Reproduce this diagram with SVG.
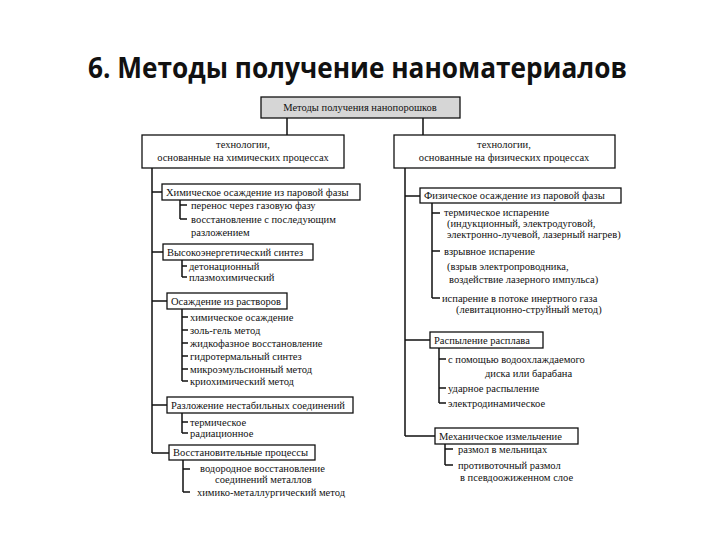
<svg xmlns="http://www.w3.org/2000/svg" width="720" height="540" viewBox="0 0 720 540">
<style>
.t{font-family:'Liberation Serif','DejaVu Serif','Times New Roman',serif;font-size:10.5px;fill:#111}
.c{text-anchor:middle}
.b{fill:#fff;stroke:#111;stroke-width:1.3}
.l{stroke:#111;stroke-width:1.5;fill:none}
.h{font-family:'Open Sans','Liberation Sans',sans-serif;font-weight:bold;font-size:29px;fill:#111}
</style>
<rect width="720" height="540" fill="#fff"/>
<text class="h" x="88" y="78" textLength="539" lengthAdjust="spacingAndGlyphs">6. Методы получение наноматериалов</text>
<g id="connectors">
<path class="l" d="M287,118V135M423,118V135"/>
<path class="l" d="M152,168V453M152,192H162M152,252H163M152,301H167M152,405H167M152,453H169"/>
<path class="l" d="M180,200V219M180,205H187M180,219H187"/>
<path class="l" d="M182,260V277M182,266H187M182,277H187"/>
<path class="l" d="M182,309V381M182,317H188M182,330H188M182,343H188M182,356H188M182,369H188M182,381H188"/>
<path class="l" d="M182,413V433M182,422H188M182,433H188"/>
<path class="l" d="M183,460V492M183,469H190M183,492H190"/>
<path class="l" d="M405,168V436M405,196H420M405,340H430M405,436H435"/>
<path class="l" d="M432,203V298M432,213H440M432,251H440M432,298H440"/>
<path class="l" d="M439,348V403M439,359H446M439,388H446M439,403H446"/>
<path class="l" d="M445,444V465M445,449H453M445,465H453"/>
</g>
<g font-family="'Liberation Serif', serif">
<g id="root"><rect x="261" y="97" width="199" height="21" fill="#d6d6d6" stroke="#111" stroke-width="1.3"/><text class="t c" x="360" y="111">Методы получения нанопорошков</text></g>
<g id="chem"><rect class="b" x="142" y="135" width="202" height="33"/><text class="t c" x="243" y="148">технологии,</text><text class="t c" x="243" y="161">основанные на химических процессах</text></g>
<g id="phys"><rect class="b" x="394" y="135" width="221" height="33"/><text class="t c" x="504" y="148">технологии,</text><text class="t c" x="504" y="161">основанные на физических процессах</text></g>
<g id="c1"><rect class="b" x="162" y="184" width="198" height="16"/><text class="t" x="166" y="196">Химическое осаждение из паровой фазы</text>
<text class="t" x="191" y="209">перенос через газовую фазу</text><text class="t" x="191" y="223">восстановление с последующим</text><text class="t" x="191" y="236">разложением</text></g>
<g id="c2"><rect class="b" x="163" y="244" width="150" height="16"/><text class="t" x="167" y="256">Высокоэнергетический синтез</text>
<text class="t" x="189" y="270">детонационный</text><text class="t" x="189" y="281">плазмохимический</text></g>
<g id="c3"><rect class="b" x="167" y="293" width="120" height="16"/><text class="t" x="171" y="305">Осаждение из растворов</text>
<text class="t" x="190" y="321">химическое осаждение</text><text class="t" x="190" y="334">золь-гель метод</text><text class="t" x="190" y="347">жидкофазное восстановление</text><text class="t" x="190" y="360">гидротермальный синтез</text><text class="t" x="190" y="373">микроэмульсионный метод</text><text class="t" x="190" y="385">криохимический метод</text></g>
<g id="c4"><rect class="b" x="167" y="397" width="186" height="16"/><text class="t" x="171" y="409">Разложение нестабильных соединений</text>
<text class="t" x="190" y="426">термическое</text><text class="t" x="190" y="437">радиационное</text></g>
<g id="c5"><rect class="b" x="169" y="445" width="146" height="15"/><text class="t" x="173" y="456">Восстановительные процессы</text>
<text class="t" x="200" y="472">водородное восстановление</text><text class="t" x="215" y="483">соединений металлов</text><text class="t" x="197" y="496">химико-металлургический метод</text></g>
<g id="p1"><rect class="b" x="420" y="188" width="201" height="15"/><text class="t" x="424" y="199">Физическое осаждение из паровой фазы</text>
<text class="t" x="444" y="216">термическое испарение</text><text class="t" x="447" y="227">(индукционный, электродуговой,</text><text class="t" x="447" y="238">электронно-лучевой, лазерный нагрев)</text>
<text class="t" x="444" y="255">взрывное испарение</text><text class="t" x="447" y="270">(взрыв электропроводника,</text><text class="t" x="449" y="283">воздействие лазерного импульса)</text>
<text class="t" x="442" y="302">испарение в потоке инертного газа</text><text class="t" x="456" y="313">(левитационно-струйный метод)</text></g>
<g id="p2"><rect class="b" x="430" y="332" width="113" height="16"/><text class="t" x="434" y="344">Распыление расплава</text>
<text class="t" x="448" y="363">с помощью водоохлаждаемого</text><text class="t" x="485" y="377">диска или барабана</text><text class="t" x="448" y="392">ударное распыление</text><text class="t" x="448" y="407">электродинамическое</text></g>
<g id="p3"><rect class="b" x="435" y="428" width="143" height="16"/><text class="t" x="439" y="440">Механическое измельчение</text>
<text class="t" x="458" y="453">размол в мельницах</text><text class="t" x="458" y="469">противоточный размол</text><text class="t" x="460" y="481">в псевдоожиженном слое</text></g>
</g>
</svg>
